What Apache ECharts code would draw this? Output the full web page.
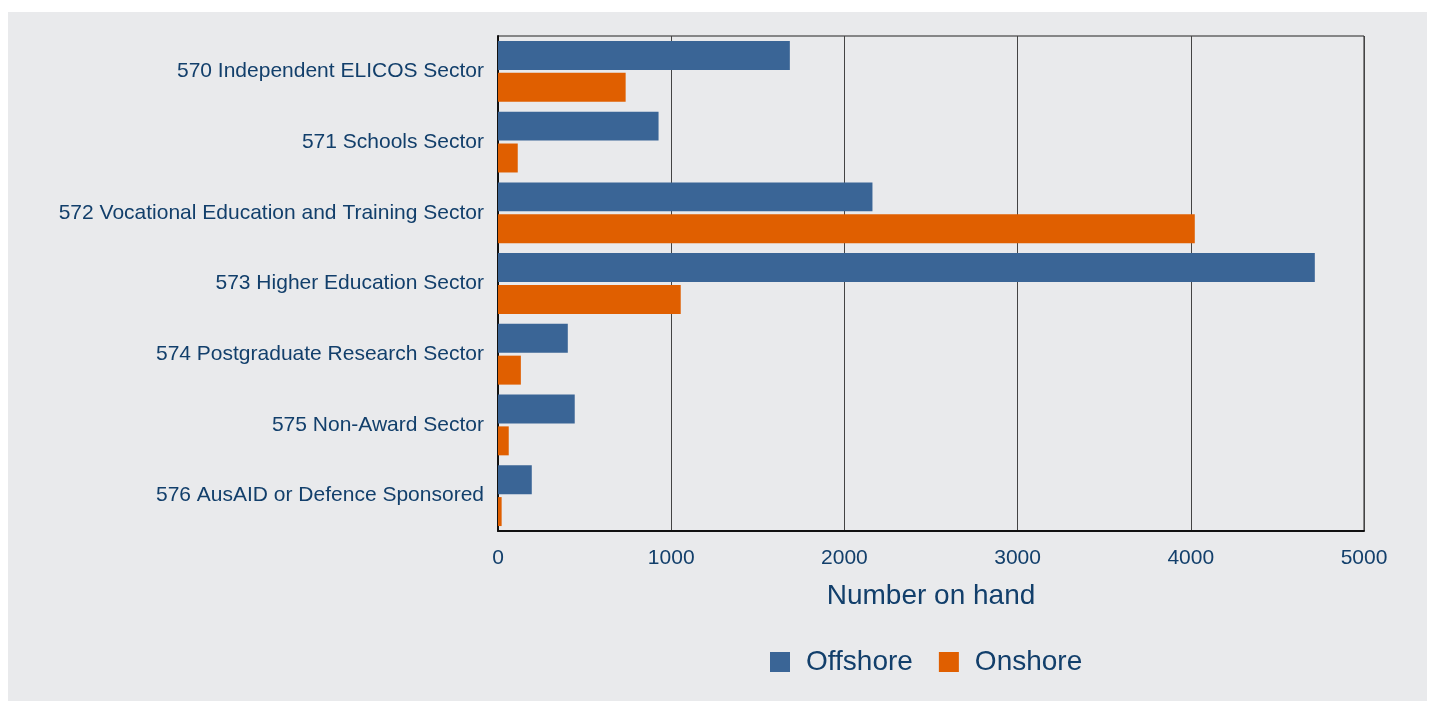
<!DOCTYPE html>
<html>
<head>
<meta charset="utf-8">
<script src="https://cdn.jsdelivr.net/npm/echarts@6/dist/echarts.min.js"></script>
<style>
	html, body { margin: 0; padding: 0; background: #ffffff; }
	#main { position: absolute; left: 8px; top: 12px; width: 1419px; height: 689px; }
</style>
</head>
<body>
<div id="main"></div>
<script>
var sectors = ['570 Independent ELICOS Sector', '571 Schools Sector',
		'572 Vocational Education and Training Sector', '573 Higher Education Sector',
		'574 Postgraduate Research Sector', '575 Non-Award Sector',
		'576 AusAID or Defence Sponsored'];
var offshore = [1685, 927, 2162, 4716, 403, 443, 195];
var onshore = [737, 114, 4023, 1055, 132, 62, 21];
var xTicks = [0, 1000, 2000, 3000, 4000, 5000];

var textColor = '#123f6b';
var chartDom = document.getElementById('main');
var myChart = echarts.init(chartDom, null, {renderer : 'canvas'});

var option = {
	backgroundColor : '#e9eaec',
	animation : false,
	textStyle : {
		fontFamily : 'Liberation Sans, Arial, sans-serif'
	},
	grid : {
		left : 490,
		top : 24,
		width : 866,
		height : 495,
		show : true,
		borderColor : '#222',
		borderWidth : 1,
		backgroundColor : 'transparent'
	},
	legend : {
		left : 762,
		top : 636,
		padding : 0,
		itemWidth : 20,
		itemHeight : 20,
		itemGap : 26,
		icon : 'rect',
		textStyle : {
			color : textColor,
			fontSize : 28,
			lineHeight : 28,
			padding : [0, 0, 0, 11]
		},
		data : ['Offshore', 'Onshore']
	},
	xAxis : {
		type : 'value',
		min : xTicks[0],
		max : xTicks[xTicks.length - 1],
		interval : 1000,
		name : 'Number on hand',
		nameLocation : 'middle',
		nameGap : 51,
		nameTextStyle : {
			color : textColor,
			fontSize : 28
		},
		axisLine : {
			show : true,
			lineStyle : {
				color : '#111',
				width : 2
			}
		},
		axisTick : {
			show : false
		},
		axisLabel : {
			color : textColor,
			fontSize : 21,
			margin : 17,
			formatter : function(v) {
				return String(v);
			}
		},
		splitLine : {
			show : true,
			lineStyle : {
				color : '#444',
				width : 1
			}
		}
	},
	yAxis : {
		type : 'category',
		inverse : true,
		data : sectors,
		axisLine : {
			show : true,
			lineStyle : {
				color : '#111',
				width : 2
			}
		},
		axisTick : {
			show : false
		},
		axisLabel : {
			color : textColor,
			fontSize : 21,
			margin : 14
		}
	},
	series : [{
				name : 'Offshore',
				type : 'bar',
				data : offshore,
				barGap : '10%',
				barCategoryGap : '14%',
				itemStyle : {
					color : '#3a6596'
				}
			}, {
				name : 'Onshore',
				type : 'bar',
				data : onshore,
				barGap : '10%',
				barCategoryGap : '14%',
				itemStyle : {
					color : '#e05f00'
				}
			}]
};

option && myChart.setOption(option);
</script>
</body>
</html>
